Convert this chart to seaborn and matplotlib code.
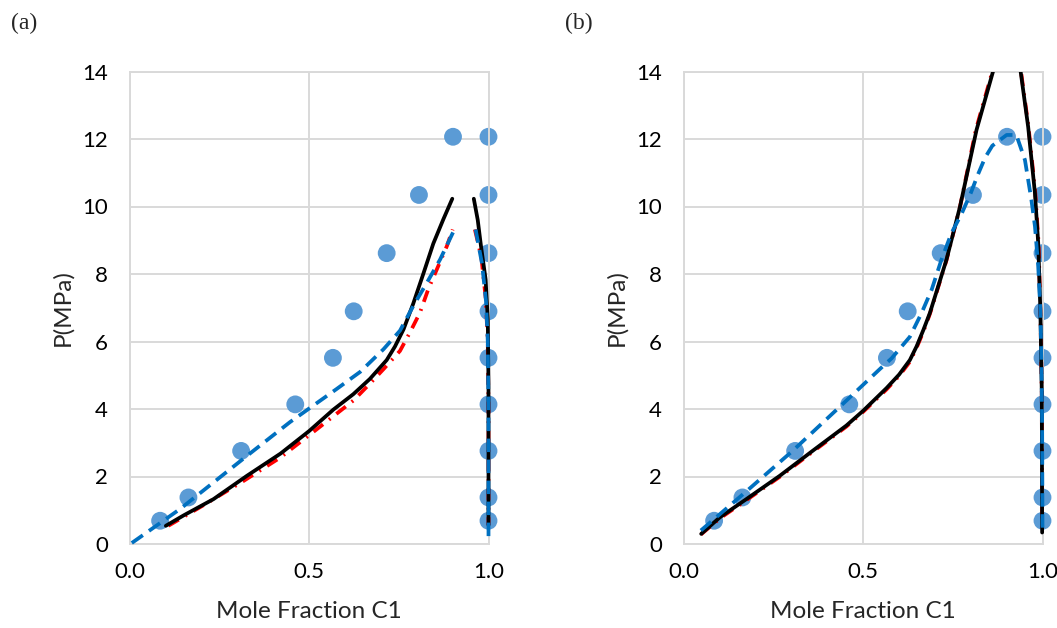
import matplotlib
matplotlib.use("Agg")
import matplotlib.pyplot as plt
import seaborn as sns
from matplotlib.patches import Rectangle

sns.set_style("white")
plt.rcParams["font.family"] = ["Lato", "DejaVu Sans"]

# experimental points (same in both panels)
p_exp = [0.689, 1.379, 2.758, 4.137, 5.516, 6.895, 8.618, 10.342, 12.066]
x_liq = [0.084, 0.163, 0.310, 0.461, 0.566, 0.624, 0.716, 0.806, 0.901]
y_vap = [1.0, 1.0, 1.0, 1.0, 1.0, 1.0, 1.0, 1.0, 1.0]

# ---- panel (a) model curves ----
a_black_bub_x = [0.100, 0.150, 0.233, 0.326, 0.420, 0.500, 0.567, 0.623, 0.669, 0.716,
                 0.739, 0.763, 0.790, 0.818, 0.846, 0.874, 0.899]
a_black_bub_p = [0.54, 0.85, 1.33, 2.02, 2.68, 3.35, 3.98, 4.44, 4.89, 5.45,
                 5.85, 6.36, 7.12, 8.00, 8.90, 9.62, 10.23]
a_black_dew_x = [0.959, 0.970, 0.979, 0.992, 0.998, 1.000, 1.000, 1.000]
a_black_dew_p = [10.23, 9.60, 8.83, 7.84, 6.66, 4.68, 2.00, 0.56]

a_red_bub_x = [0.107, 0.205, 0.317, 0.419, 0.521, 0.623, 0.669, 0.707, 0.753, 0.781,
               0.809, 0.832, 0.856, 0.884, 0.900]
a_red_bub_p = [0.54, 1.15, 1.87, 2.56, 3.40, 4.25, 4.75, 5.18, 5.72, 6.27,
               6.86, 7.55, 8.14, 8.83, 9.32]
a_red_dew_x = [0.962, 0.980, 0.992, 0.998, 1.000, 1.000]
a_red_dew_p = [9.32, 8.50, 7.30, 6.00, 4.00, 0.56]

a_blue_bub_x = [0.005, 0.140, 0.326, 0.446, 0.511, 0.576, 0.642, 0.707, 0.753, 0.790,
                0.828, 0.865, 0.905]
a_blue_bub_p = [0.03, 1.04, 2.61, 3.61, 4.10, 4.59, 5.10, 5.77, 6.32, 7.05,
                7.74, 8.43, 9.32]
a_blue_dew_x = [0.964, 0.982, 0.993, 0.998, 1.000, 1.000]
a_blue_dew_p = [9.32, 8.30, 7.20, 6.00, 4.00, 0.02]

# ---- panel (b) model curves ----
b_black_x = [0.048, 0.100, 0.174, 0.267, 0.360, 0.453, 0.500, 0.565, 0.600, 0.630,
             0.649, 0.668, 0.686, 0.732, 0.770, 0.816, 0.862, 0.885, 0.905, 0.925,
             0.939, 0.960, 0.979, 0.988, 0.994, 0.998, 0.999]
b_black_p = [0.30, 0.79, 1.33, 2.02, 2.77, 3.51, 3.95, 4.62, 5.02, 5.45,
             5.86, 6.35, 6.85, 8.42, 10.00, 12.27, 14.00, 14.80, 15.20, 14.80,
             14.00, 12.36, 10.39, 8.92, 6.95, 4.48, 0.34]
b_red_x = [0.047, 0.100, 0.174, 0.267, 0.360, 0.453, 0.500, 0.565, 0.600, 0.630,
           0.649, 0.668, 0.686, 0.732, 0.770, 0.814, 0.860, 0.884, 0.905, 0.926,
           0.940, 0.961, 0.980, 0.989, 0.994, 0.998, 0.999]
b_red_p = [0.28, 0.76, 1.30, 1.99, 2.74, 3.48, 3.92, 4.58, 4.98, 5.40,
           5.82, 6.30, 6.82, 8.40, 10.00, 12.27, 14.00, 14.80, 15.20, 14.80,
           14.00, 12.36, 10.39, 8.92, 6.95, 4.48, 0.30]
b_blue_x = [0.047, 0.174, 0.304, 0.453, 0.547, 0.579, 0.630, 0.663, 0.691, 0.718,
            0.746, 0.775, 0.800, 0.820, 0.840, 0.860, 0.900, 0.927, 0.951, 0.969,
            0.979, 0.988, 0.994, 0.997, 0.999, 1.000]
b_blue_p = [0.40, 1.56, 2.77, 4.25, 5.19, 5.50, 6.14, 6.85, 7.54, 8.42,
            9.21, 9.80, 10.40, 10.95, 11.45, 11.80, 12.12, 12.12, 11.38, 10.20,
            9.41, 8.23, 6.95, 5.47, 3.50, 0.35]

BLUE_DOT = "#5B9BD5"
BLUE_LINE = "#0070C0"
GRID = "#D9D9D9"
DASH = (3.6, 2.0)
DASHDOT = (3.2, 2.0, 0.5, 2.0)


def draw_curve(ax, x, p, color, dash=None, z=3, clip=None):
    n = len(ax.lines)
    sns.lineplot(x=x, y=p, sort=False, estimator=None, color=color,
                 lw=2.7, ax=ax, zorder=z)
    line = ax.lines[n]
    if dash is not None:
        line.set_dashes(dash)
        line.set_dash_capstyle("butt")
    if clip is None:
        line.set_clip_on(False)
    else:
        line.set_clip_path(clip)
    return line


def style_axes(ax):
    ax.set_xlim(0, 1)
    ax.set_ylim(0, 14)
    ax.set_xticks([0, 0.5, 1.0])
    ax.set_xticklabels(["0.0", "0.5", "1.0"])
    ax.set_yticks(range(0, 15, 2))
    ax.grid(True, color=GRID, lw=1.4)
    ax.set_axisbelow(True)
    for s in ax.spines.values():
        s.set_visible(True)
        s.set_color(GRID)
        s.set_linewidth(1.4)
    ax.tick_params(length=0, labelsize=16, colors="black")
    ax.tick_params(axis="y", pad=16)
    ax.tick_params(axis="x", pad=13)
    ax.set_xlabel("Mole Fraction C1", fontsize=17.5, labelpad=14)
    ax.set_ylabel("P(MPa)", fontsize=17.5, labelpad=6)


def draw_points(ax):
    sns.scatterplot(x=x_liq + y_vap, y=p_exp + p_exp, color=BLUE_DOT, s=165,
                    edgecolor="none", linewidth=0, ax=ax, zorder=2)
    ax.collections[-1].set_clip_on(False)


fig = plt.figure(figsize=(10.57, 6.28), dpi=100)
W, H = 1057, 628
ax_a = fig.add_axes([130 / W, (H - 544) / H, 358.5 / W, 472.5 / H])
ax_b = fig.add_axes([684 / W, (H - 544) / H, 358.5 / W, 472.5 / H])

# panel (a)
draw_points(ax_a)
draw_curve(ax_a, a_red_bub_x, a_red_bub_p, "red", dash=DASHDOT, z=3)
draw_curve(ax_a, a_red_dew_x, a_red_dew_p, "red", dash=DASHDOT, z=3)
draw_curve(ax_a, a_black_bub_x, a_black_bub_p, "black", z=4)
draw_curve(ax_a, a_black_dew_x, a_black_dew_p, "black", z=4)
draw_curve(ax_a, a_blue_bub_x, a_blue_bub_p, BLUE_LINE, dash=DASH, z=5)
draw_curve(ax_a, a_blue_dew_x, a_blue_dew_p, BLUE_LINE, dash=DASH, z=5)
style_axes(ax_a)

# panel (b)
draw_points(ax_b)
clip_b = Rectangle((0, -0.05), 1.06, 1.05, transform=ax_b.transAxes)
draw_curve(ax_b, b_red_x, b_red_p, "red", dash=DASHDOT, z=3, clip=clip_b)
draw_curve(ax_b, b_black_x, b_black_p, "black", z=4, clip=clip_b)
draw_curve(ax_b, b_blue_x, b_blue_p, BLUE_LINE, dash=DASH, z=5, clip=clip_b)
style_axes(ax_b)

fig.text(24 / W, 1 - 23 / H, "(a)", fontsize=17, family="Liberation Serif",
         ha="center", va="center")
fig.text(579 / W, 1 - 23 / H, "(b)", fontsize=17, family="Liberation Serif",
         ha="center", va="center")

fig.savefig("out.png", dpi=100)
